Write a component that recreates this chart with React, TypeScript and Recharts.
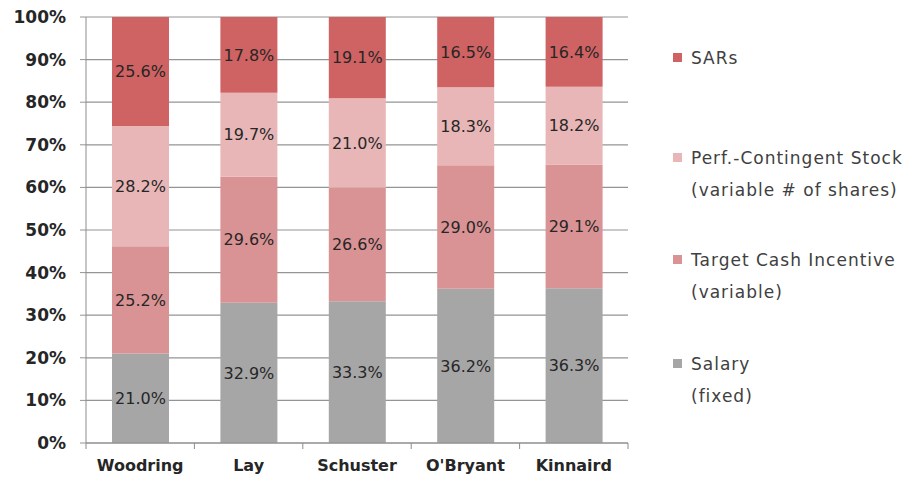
import React from "react";
import { BarChart, Bar, XAxis, YAxis, CartesianGrid, LabelList } from "recharts";

const names = ["Woodring", "Lay", "Schuster", "O'Bryant", "Kinnaird"];
const salary = [21.0, 32.9, 33.3, 36.2, 36.3];
const targetCash = [25.2, 29.6, 26.6, 29.0, 29.1];
const perfStock = [28.2, 19.7, 21.0, 18.3, 18.2];
const sars = [25.6, 17.8, 19.1, 16.5, 16.4];
const yTicks = [0, 10, 20, 30, 40, 50, 60, 70, 80, 90, 100];

const series = [
  { key: "salary", color: "#a6a6a6", lines: ["Salary", "(fixed)"], top: 348 },
  { key: "target", color: "#da9394", lines: ["Target Cash Incentive", "(variable)"], top: 244 },
  { key: "perf", color: "#e8b6b6", lines: ["Perf.-Contingent Stock", "(variable # of shares)"], top: 142 },
  { key: "sars", color: "#cf6262", lines: ["SARs"], top: 42 },
];

const data = names.map((name, i) => ({
  name,
  salary: salary[i],
  target: targetCash[i],
  perf: perfStock[i],
  sars: sars[i],
}));

const FONT = "'DejaVu Sans', sans-serif";
const W = 914;
const H = 487;
const LEFT = 86;
const RIGHT = 628;
const BAND = (RIGHT - LEFT) / names.length;

const CatTick = (props: any) => {
  const { x, y, payload, index } = props;
  const half = BAND / 2;
  return (
    <g>
      <line x1={x - half} y1={y - 8} x2={x - half} y2={y - 2} stroke="#8c8c8c" />
      {index === names.length - 1 && (
        <line x1={x + half} y1={y - 8} x2={x + half} y2={y - 2} stroke="#8c8c8c" />
      )}
      <text x={x} y={y + 20} textAnchor="middle" fill="#262626" fontSize={16} fontWeight={700} fontFamily={FONT}>
        {payload.value}
      </text>
    </g>
  );
};

export default function App() {
  return (
    <div style={{ position: "absolute", left: 0, top: 0, width: W, height: H, background: "#fff" }}>
      <BarChart
        width={W}
        height={H}
        data={data}
        margin={{ top: 17, right: W - RIGHT, bottom: 0, left: 0 }}
        barCategoryGap="0%"
      >
        <CartesianGrid horizontal vertical={false} stroke="#949494" strokeWidth={1.2} />
        <YAxis
          width={LEFT}
          domain={[0, 100]}
          ticks={yTicks}
          interval={0}
          allowDataOverflow
          tickFormatter={(v: number) => `${v}%`}
          axisLine={{ stroke: "#8c8c8c" }}
          tickLine={{ stroke: "#949494" }}
          tickSize={6}
          tickMargin={14}
          tick={{ fill: "#262626", fontSize: 17, fontWeight: 700, fontFamily: FONT }}
        />
        <XAxis
          dataKey="name"
          height={44}
          interval={0}
          axisLine={{ stroke: "#8c8c8c" }}
          tickLine={false}
          tick={<CatTick />}
        />
        {series.map((s) => (
          <Bar key={s.key} dataKey={s.key} stackId="a" fill={s.color} barSize={57} isAnimationActive={false}>
            <LabelList
              dataKey={s.key}
              position="center"
              formatter={(v: any) => `${Number(v).toFixed(1)}%`}
              fill="#262626"
              fontSize={16}
              fontFamily={FONT}
            />
          </Bar>
        ))}
      </BarChart>
      {series.map((s) => (
        <div
          key={s.key}
          style={{ position: "absolute", left: 673, top: s.top, fontFamily: FONT, fontSize: 17, letterSpacing: 1, color: "#404040", lineHeight: "32px" }}
        >
          <span style={{ position: "absolute", left: 0, top: 11, width: 9, height: 9, background: s.color }} />
          {s.lines.map((l, j) => (
            <div key={j} style={{ marginLeft: 18, whiteSpace: "nowrap" }}>{l}</div>
          ))}
        </div>
      ))}
    </div>
  );
}
